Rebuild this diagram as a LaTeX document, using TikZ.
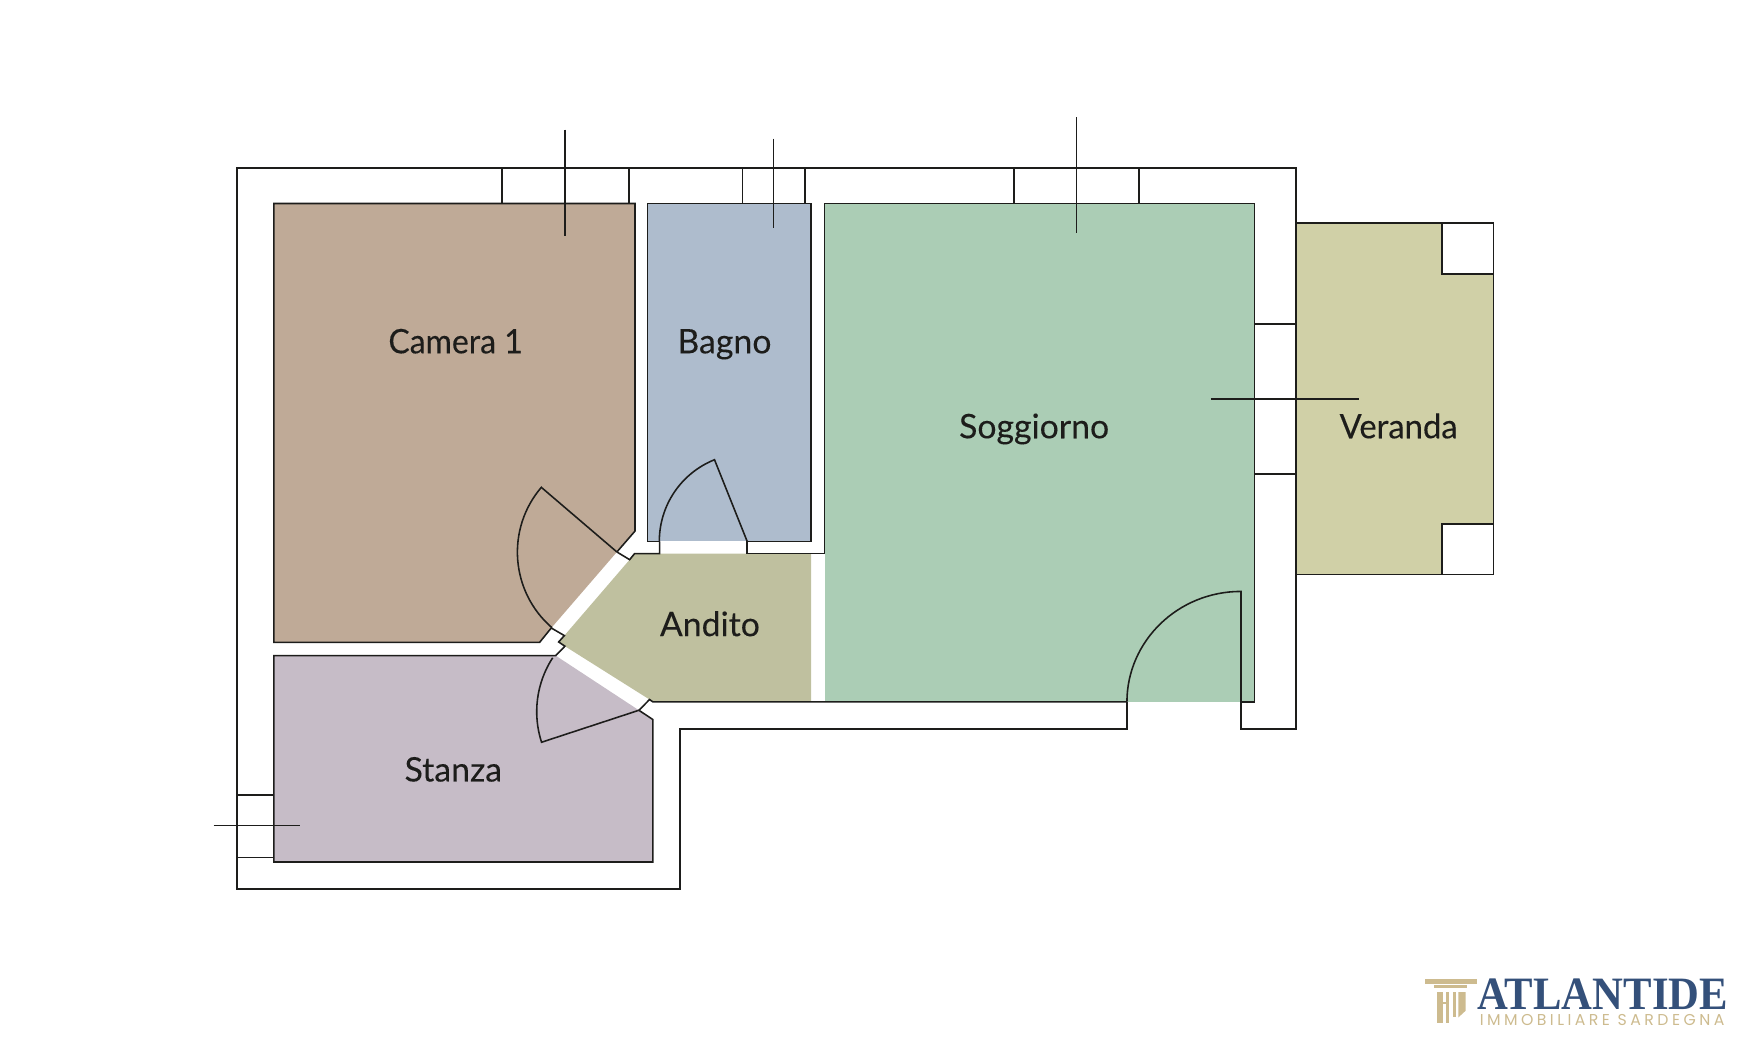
\documentclass[tikz,border=0pt]{standalone}
\usepackage{fontspec}
\setmainfont[FakeBold=.15]{Lato}
\newfontfamily\logofont{Liberation Serif}
\newfontfamily\subfont[LetterSpace=22]{Poppins}
\definecolor{inkline}{HTML}{1D1D1B}
\definecolor{cameracol}{HTML}{BFAA97}
\definecolor{bagnocol}{HTML}{AEBCCD}
\definecolor{soggiornocol}{HTML}{ABCDB5}
\definecolor{verandacol}{HTML}{D0D0A7}
\definecolor{anditocol}{HTML}{BFC09F}
\definecolor{stanzacol}{HTML}{C6BCC7}
\definecolor{logoblue}{HTML}{34507A}
\definecolor{logogold}{HTML}{CDBB8F}
\tikzset{
  wall/.style={draw=inkline, line width=.4pt, line join=miter},
  roomlabel/.style={text=inkline, inner sep=0pt, anchor=base, font=\fontsize{8.6}{10}\selectfont},
}
\begin{document}
\begin{tikzpicture}[x=.01cm, y=.01cm]
\useasboundingbox (0,0) rectangle (1568,-930.2);

% room fills
\fill[cameracol] (245,-182) -- (568,-182) -- (568,-475) -- (551.8,-493.7) -- (493.1,-561.7) -- (482.7,-574.5) -- (245,-574.5) -- cycle;
\fill[bagnocol] (579,-182) rectangle (725.5,-484.2);
\fill[soggiornocol] (737.5,-182) rectangle (1122,-628);
\fill[verandacol] (1159,-199.5) -- (1290,-199.5) -- (1290,-245) -- (1336,-245) -- (1336,-468.5) -- (1290,-468.5) -- (1290,-514) -- (1159,-514) -- cycle;
\fill[anditocol] (567.6,-495.2) -- (725.5,-495.2) -- (725.5,-627.8) -- (584,-627.8) -- (581,-625.7) -- (505.3,-578) -- (499.7,-574.2) -- (504.8,-568.5) -- (563.2,-500.6) -- cycle;
\fill[stanzacol] (245,-586.4) -- (497,-586.4) -- (571.5,-635.3) -- (584,-643.6) -- (584,-771) -- (245,-771) -- cycle;

% outer wall
\draw[wall] (1110,-628) -- (1110,-652) -- (1159,-652) -- (1159,-150) -- (212,-150) -- (212,-795) -- (608,-795) -- (608,-652) -- (1008,-652) -- (1008,-628);

% inner outlines
\draw[wall] (551.8,-493.7) -- (568,-475) -- (568,-182) -- (245,-182) -- (245,-574.5) -- (482.7,-574.5) -- (493.1,-561.7) -- (504.8,-568.5) -- (499.7,-574.2) -- (505.3,-578) -- (497,-586.4) -- (245,-586.4) -- (245,-771) -- (584,-771) -- (584,-643.6) -- (571.5,-635.3) -- (581,-625.7) -- (584,-627.8) -- (1008,-627.8);
\draw[wall] (590,-484.2) -- (579,-484.2) -- (579,-182) -- (725.5,-182) -- (725.5,-484.2) -- (668.3,-484.2);
\draw[wall] (551.8,-493.7) -- (563.2,-500.6) -- (567.6,-495.2) -- (590,-495.2) -- (590,-484.2);
\draw[wall] (668.3,-484.2) -- (668.3,-495.2) -- (737.5,-495.2) -- (737.5,-182) -- (1122,-182) -- (1122,-628) -- (1110,-628);

% veranda
\draw[wall] (1159,-199.5) -- (1336,-199.5) -- (1336,-514) -- (1159,-514);
\draw[wall] (1290,-199.5) -- (1290,-245) -- (1336,-245);
\draw[wall] (1290,-514) -- (1290,-468.5) -- (1336,-468.5);

% window jambs
\foreach \x in {449, 562.5, 664, 720, 907, 1019}
  \draw[wall] (\x,-150) -- (\x,-182);
\foreach \y in {290, 424}
  \draw[wall] (1122,-\y) -- (1159,-\y);
\foreach \y in {711, 767}
  \draw[wall] (212,-\y) -- (245,-\y);

% window axes
\draw[wall] (505.5,-116) -- (505.5,-211);
\draw[wall] (692,-124) -- (692,-204);
\draw[wall] (963,-105) -- (963,-208);
\draw[wall] (1083,-357) -- (1216,-357);
\draw[wall] (191,-738.5) -- (268,-738.5);

% doors
\draw[wall] (551.8,-493.7) -- (484.2,-435.9) arc[start angle=139.5, end angle=229.2, radius=89.3];
\draw[wall] (668.3,-484.2) -- (639.1,-411.2) arc[start angle=111.8, end angle=180, radius=78.5];
\draw[wall] (1110,-628) -- (1110,-529) arc[start angle=90, end angle=180, x radius=102, y radius=99];
\draw[wall] (571.5,-635.3) -- (484.4,-663.9) arc[start angle=198, end angle=147, radius=88.5];

% labels
\node[roomlabel, xscale=.945] (camera) at (407.5,-316) {Camera 1};
\node[roomlabel] (bagno) at (648,-316) {Bagno};
\node[roomlabel] (soggiorno) at (925,-392) {Soggiorno};
\node[roomlabel, xscale=.97] (veranda) at (1251,-392) {Veranda};
\node[roomlabel] (andito) at (635,-569) {Andito};
\node[roomlabel] (stanza) at (405.5,-699) {Stanza};

% logo
\fill[logogold] (1274.7,-875.4) rectangle (1321.4,-879.9);
\fill[logogold] (1282.7,-881.1) rectangle (1312.5,-883.6);
\fill[logogold] (1285.2,-887.3) rectangle (1291.1,-915.4);
\fill[logogold] (1291.1,-896.3) rectangle (1293.2,-898.4);
\fill[logogold] (1293.2,-887.3) rectangle (1296.2,-915.4);
\fill[logogold] (1300,-887.3) rectangle (1302,-910);
\fill[logogold] (1304.5,-887.3) -- (1311,-887.3) -- (1311,-904) -- (1304.5,-910) -- cycle;
\node[inner sep=0pt, xscale=.92, text=logoblue, font=\logofont\bfseries\fontsize{11.8}{12}\selectfont] (logoname) at (1433.5,-889) {ATLANTIDE};
\node[inner sep=0pt, text=logogold, font=\subfont\fontsize{4}{4.5}\selectfont] (logosub) at (1433,-912) {IMMOBILIARE SARDEGNA};
\end{tikzpicture}
\end{document}
